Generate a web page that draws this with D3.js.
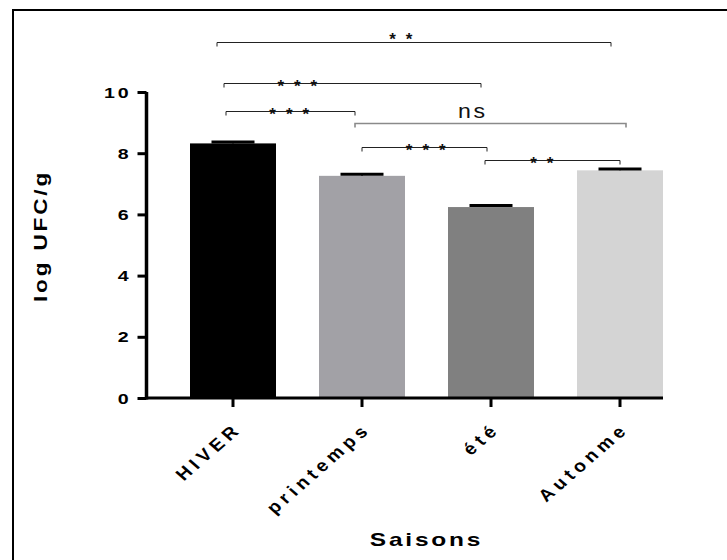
<!DOCTYPE html>
<html>
<head>
<meta charset="utf-8">
<script src="https://cdn.jsdelivr.net/npm/d3@7"></script>
<style>
  html, body { margin: 0; padding: 0; background: #fff; }
  svg { display: block; }
  text { font-family: "Liberation Sans", Arial, sans-serif; }
</style>
</head>
<body>
<svg id="chart" width="727" height="560"></svg>
<script>
// ---- data ----
const categories = ["HIVER", "printemps", "été", "Autonme"];
const means = [8.32, 7.26, 6.24, 7.44];
const sems = [0.05, 0.05, 0.05, 0.04];
const yTicks = [0, 2, 4, 6, 8, 10];
const barColors = ["#000000", "#a2a1a6", "#808080", "#d4d4d4"];

// significance brackets: from category index, to category index, height (log UFC/g), label
const bracketFrom  = [0, 0, 0, 1, 1, 2];
const bracketTo    = [3, 2, 1, 3, 2, 3];
const bracketLevel = [11.64, 10.28, 9.38, 9.0, 8.21, 7.79];
const bracketText  = ["**", "***", "***", "ns", "***", "**"];

// bracket layout (pixels / fractions, kept apart from the data)
const bracketLabelAt = [0.47, 0.29, 0.5, 0.435, 0.52, 0.43];
const bracketNudgeL = [-16, -9, -7, -7, 0, -6];
const bracketNudgeR = [-9, -10, -7, 6, -4, 0];

const xTitle = "Saisons";
const yTitle = "log UFC/g";

// ---- layout ----
const svg = d3.select("#chart");
const yAxisX = 146.5;

const x = d3.scaleBand().domain(categories)
  .range([168.5, 684.5]).paddingInner(1/3).paddingOuter(1/6);
const y = d3.scaleLinear().domain([0, 10]).range([398, 92]);

// frame (left + top edges)
svg.append("path").attr("d", "M13,560V10H727")
  .attr("fill", "none").attr("stroke", "#000").attr("stroke-width", 2);

// bars
const data = categories.map((c, i) => ({c, m: means[i], s: sems[i], col: barColors[i]}));
svg.append("g").selectAll("rect").data(data).join("rect")
  .attr("x", d => x(d.c)).attr("width", x.bandwidth())
  .attr("y", d => y(d.m)).attr("height", d => y(0) - y(d.m))
  .attr("fill", d => d.col);

// error bars (upper only)
const eb = svg.append("g");
data.forEach(d => {
  const cx = x(d.c) + x.bandwidth() / 2;
  eb.append("line").attr("x1", cx).attr("x2", cx)
    .attr("y1", y(d.m)).attr("y2", y(d.m + d.s))
    .attr("stroke", "#000").attr("stroke-width", 1.5);
  eb.append("line").attr("x1", cx - x.bandwidth() / 4).attr("x2", cx + x.bandwidth() / 4)
    .attr("y1", y(d.m + d.s)).attr("y2", y(d.m + d.s))
    .attr("stroke", "#000").attr("stroke-width", 3);
});

// y axis
const yAxis = svg.append("g").attr("transform", `translate(${yAxisX},0)`)
  .call(d3.axisLeft(y).tickValues(yTicks).tickSize(9).tickSizeOuter(0).tickFormat(d3.format("d")));
yAxis.select(".domain").attr("stroke", "#000").attr("stroke-width", 3.5)
  .attr("d", `M0,${y(0) + 1.5}V${y(10)}`);
yAxis.selectAll(".tick line").attr("stroke", "#000").attr("stroke-width", 3);
yAxis.selectAll(".tick text")
  .attr("x", null).attr("dy", null)
  .attr("transform", "translate(-15,5) scale(1.4,1)")
  .attr("text-anchor", "end")
  .attr("font-size", 14).attr("font-weight", "bold").attr("letter-spacing", 2)
  .attr("fill", "#000");

// x axis
const xAxis = svg.append("g").attr("transform", `translate(0,${y(0)})`)
  .call(d3.axisBottom(x).tickSize(9).tickSizeOuter(0));
xAxis.select(".domain").attr("stroke", "#000").attr("stroke-width", 3)
  .attr("d", `M${yAxisX},0H${x(categories[categories.length - 1]) + x.bandwidth()}`);
xAxis.selectAll(".tick line").attr("stroke", "#000").attr("stroke-width", 3);
xAxis.selectAll(".tick text")
  .attr("y", null).attr("dy", null)
  .attr("transform", "translate(10,32) scale(1.15,1) rotate(-45)")
  .attr("text-anchor", "end")
  .attr("font-size", 17).attr("font-weight", "bold").attr("letter-spacing", 4.2)
  .attr("fill", "#000");

// axis titles
const midX = (x(categories[0]) + x(categories[categories.length - 1]) + x.bandwidth()) / 2;
svg.append("text")
  .attr("transform", `translate(${midX},546) scale(1.4,1)`)
  .attr("text-anchor", "middle").attr("font-size", 17.5).attr("font-weight", "bold")
  .attr("letter-spacing", 2).text(xTitle);
svg.append("text")
  .attr("transform", `translate(47,236) rotate(-90) scale(1.25,1)`)
  .attr("text-anchor", "middle").attr("font-size", 18).attr("font-weight", "bold")
  .attr("letter-spacing", 2.3).text(yTitle);

// significance brackets
const bg = svg.append("g");
const center = c => x(categories[c]) + x.bandwidth() / 2;
bracketText.forEach((t, i) => {
  const x1 = center(bracketFrom[i]) + bracketNudgeL[i];
  const x2 = center(bracketTo[i]) + bracketNudgeR[i];
  const yy = Math.round(y(bracketLevel[i])) + 0.5;
  const isNs = t === "ns";
  bg.append("path")
    .attr("d", `M${x1},${yy + 4}V${yy}H${x2}V${yy + 4}`)
    .attr("fill", "none")
    .attr("stroke", isNs ? "#8a8a8a" : "#222")
    .attr("stroke-width", isNs ? 1.6 : 1);
  const lx = x1 + (x2 - x1) * bracketLabelAt[i];
  if (isNs) {
    bg.append("text")
      .attr("transform", `translate(${lx},${yy - 6}) scale(1.1,1)`)
      .attr("text-anchor", "middle").attr("font-size", 21).attr("letter-spacing", 2.5)
      .attr("fill", "#111").text("ns");
  } else {
    const top = i === 0;
    bg.append("text")
      .attr("x", lx).attr("y", top ? yy + 2.5 : yy + 8.3)
      .attr("text-anchor", "middle").attr("font-size", 17).attr("font-weight", "bold")
      .attr("letter-spacing", 2.6)
      .attr("fill", "#111").text(t.split("").join(" "));
  }
});
</script>
</body>
</html>
